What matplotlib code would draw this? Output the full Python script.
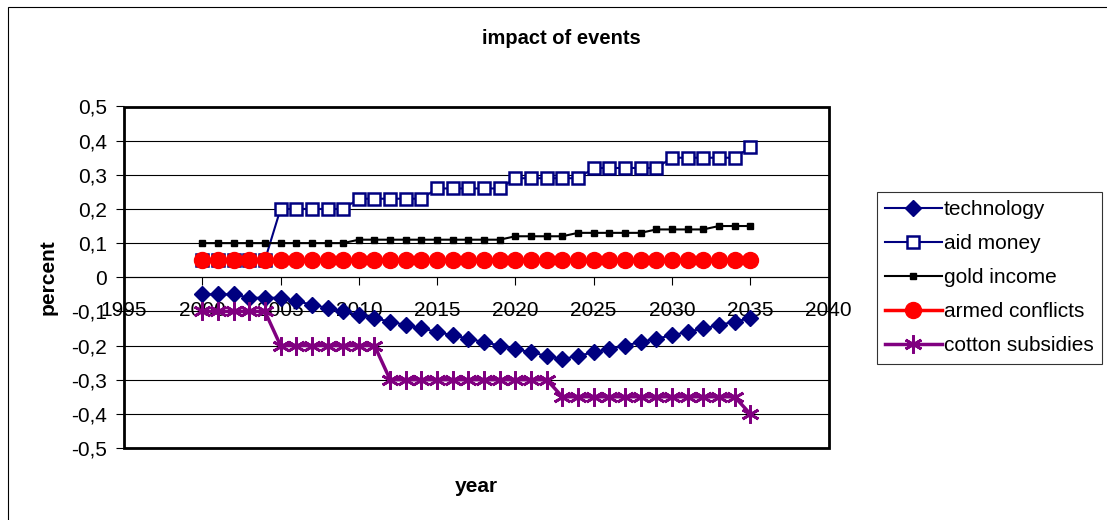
import numpy as np
import matplotlib.pyplot as plt
from matplotlib.patches import Rectangle
from matplotlib.ticker import FuncFormatter, MultipleLocator

plt.rcParams['font.family'] = ['Liberation Sans', 'DejaVu Sans']

years = list(range(2000, 2036))

technology = [-0.05, -0.05, -0.05, -0.06, -0.06, -0.06, -0.07, -0.08, -0.09, -0.10,
              -0.11, -0.12, -0.13, -0.14, -0.15, -0.16, -0.17, -0.18, -0.19, -0.20,
              -0.21, -0.22, -0.23, -0.24, -0.23, -0.22, -0.21, -0.20, -0.19, -0.18,
              -0.17, -0.16, -0.15, -0.14, -0.13, -0.12]
aid_money = [0.05] * 5 + [0.20] * 5 + [0.23] * 5 + [0.26] * 5 + [0.29] * 5 \
    + [0.32] * 5 + [0.35] * 5 + [0.38]
gold_income = [0.10] * 10 + [0.11] * 10 + [0.12] * 4 + [0.13] * 5 + [0.14] * 4 + [0.15] * 3
armed_conflicts = [0.05] * 36
cotton_subsidies = [-0.10] * 5 + [-0.20] * 7 + [-0.30] * 11 + [-0.35] * 12 + [-0.40]

W, H = 1107, 520
fig = plt.figure(figsize=(W / 100, H / 100), dpi=100)
ax = fig.add_axes([124 / W, 1 - 448 / H, (828.5 - 124) / W, (448 - 106.5) / H])

navy = '#000080'
purple = '#800080'

ax.plot(years, technology, color=navy, lw=1.5, marker='D', ms=8.5, mec=navy, mfc=navy,
        label='technology')
ax.plot(years, aid_money, color=navy, lw=1.5, marker='s', ms=8, mfc='white', mec=navy,
        mew=1.8, label='aid money')
ax.plot(years, gold_income, color='black', lw=1.5, marker='s', ms=4.5, mfc='black',
        mec='black', label='gold income')
ax.plot(years, armed_conflicts, color='red', lw=2.5, marker='o', ms=11.5, mfc='red',
        mec='red', label='armed conflicts')
ax.plot(years, cotton_subsidies, color=purple, lw=2.5, marker=(6, 2, 0), ms=13,
        mec=purple, mew=2, label='cotton subsidies')

ax.set_xlim(1995, 2040)
ax.set_ylim(-0.5, 0.5)
ax.xaxis.set_major_locator(MultipleLocator(5))
ax.yaxis.set_major_locator(MultipleLocator(0.1))


def comma(v, pos):
    s = '%g' % round(v, 2)
    return s.replace('.', ',')


ax.yaxis.set_major_formatter(FuncFormatter(comma))
ax.grid(axis='y', color='black', lw=0.8)
ax.set_axisbelow(True)

# x axis sits on the zero line, box drawn separately
for side in ['top', 'right', 'left']:
    ax.spines[side].set_visible(False)
ax.spines['bottom'].set_position(('data', 0))
ax.spines['bottom'].set_linewidth(0.8)
ax.add_patch(Rectangle((0, 0), 1, 1, transform=ax.transAxes, fill=False,
                       lw=2, ec='black', clip_on=False, zorder=5))

ax.tick_params(axis='x', direction='out', length=6, width=0.8, pad=11, labelsize=15)
ax.tick_params(axis='y', direction='out', length=6, width=0.8, pad=6, labelsize=15)

fig.text(561 / W, 1 - 38 / H, 'impact of events', ha='center', va='center',
         fontsize=14.5, fontweight='bold')
fig.text(48 / W, 1 - 277 / H, 'percent', ha='center', va='center', rotation=90,
         fontsize=15, fontweight='bold')
fig.text(476 / W, 1 - 486 / H, 'year', ha='center', va='center',
         fontsize=15, fontweight='bold')

leg = fig.legend(loc='upper left', bbox_to_anchor=(877 / W, 1 - 192 / H),
                 fontsize=15, frameon=True, fancybox=False, shadow=False,
                 handlelength=2.7, handletextpad=0.1, labelspacing=0.72,
                 borderpad=0.4, borderaxespad=0)
leg.get_frame().set_edgecolor('black')
leg.get_frame().set_linewidth(0.8)

# outer chart border
fig.add_artist(Rectangle((8 / W, -0.1), 1.2, 1.1 - 7.5 / H, transform=fig.transFigure,
                         fill=False, ec='black', lw=0.8))

fig.savefig('out.png', dpi=100)
